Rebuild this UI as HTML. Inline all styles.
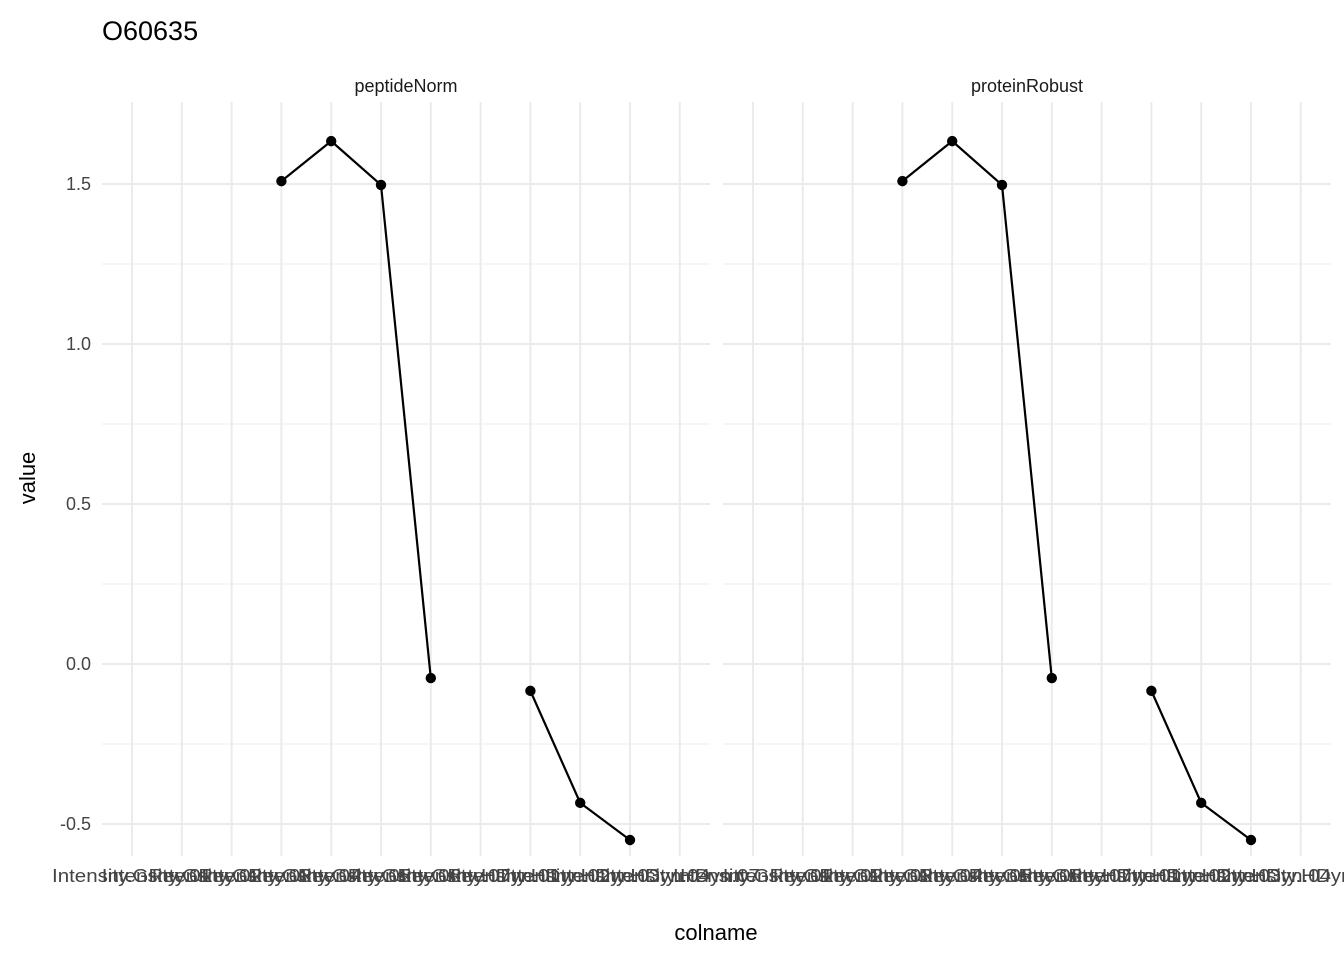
<!DOCTYPE html>
<html><head><meta charset="utf-8"><style>
body{margin:0;background:#fff;}
svg text{font-family:"Liberation Sans",Arial,sans-serif;}
</style></head><body>
<svg id="chart" width="1344" height="960" xmlns="http://www.w3.org/2000/svg">
<text x="102" y="40" font-size="27" fill="#000">O60635</text>
<text x="716" y="940" font-size="22" text-anchor="middle" fill="#000">colname</text>
<text transform="translate(35,478) rotate(-90)" font-size="22" text-anchor="middle" fill="#000">value</text>
<g id="panels"></g>
</svg>
<script>
const categories=["Intensity.GRey.01","Intensity.GRey.02","Intensity.GRey.03","Intensity.GRey.04","Intensity.GRey.05","Intensity.GRey.06","Intensity.GRey.07","Intensity.HDyn.01","Intensity.HDyn.02","Intensity.HDyn.03","Intensity.HDyn.04","Intensity.HDyn.07"];
const facets=["peptideNorm","proteinRobust"];
const peptideNormValues=[null,null,null,1.509,1.634,1.497,-0.044,null,-0.084,-0.434,-0.55,null];
const proteinRobustValues=[null,null,null,1.509,1.634,1.497,-0.044,null,-0.084,-0.434,-0.55,null];
const yTicks=[-0.5,0,0.5,1.0,1.5];
const yTickLabels=["-0.5","0.0","0.5","1.0","1.5"];
const seriesByFacet=[peptideNormValues,proteinRobustValues];

const NS="http://www.w3.org/2000/svg";
const g=document.getElementById("panels");
function mk(tag,attrs,parent){const e=document.createElementNS(NS,tag);for(const k in attrs)e.setAttribute(k,attrs[k]);(parent||g).appendChild(e);return e;}
const panelLeft=[102,723], panelW=608, panelTop=102, panelBottom=856;
const step=49.8, firstOff=30;
function y(v){return 664-v*320;}
function x(p,i){return panelLeft[p]+firstOff+i*step;}

facets.forEach((f,p)=>{
  const pg=mk("g",{});
  
  
  for(let k=0;k<yTicks.length-1;k++){
    const m=(yTicks[k]+yTicks[k+1])/2;
    const l=mk("line",{x1:panelLeft[p],x2:panelLeft[p]+panelW,y1:y(m),y2:y(m),stroke:"#f0f0f0","stroke-width":1.2},pg);
    
    
  }
  yTicks.forEach((t,k)=>{
    const l=mk("line",{x1:panelLeft[p],x2:panelLeft[p]+panelW,y1:y(t),y2:y(t),stroke:"#ebebeb","stroke-width":2},pg);
    
    
    if(p===0){
      const tx=mk("text",{x:91,y:y(t)+6,"font-size":18,"text-anchor":"end",fill:"#444"},pg);
      tx.textContent=yTickLabels[k];
      
      
    }
  });
  categories.forEach((c,i)=>{
    const l=mk("line",{x1:x(p,i),x2:x(p,i),y1:panelTop,y2:panelBottom,stroke:"#ebebeb","stroke-width":2},pg);
    
    
    const tx=mk("text",{x:x(p,i),y:882,"font-size":18,"text-anchor":"middle",fill:"#444",textLength:160,lengthAdjust:"spacingAndGlyphs"},pg);
    tx.textContent=c;
    
    
  });
  const st=mk("text",{x:panelLeft[p]+panelW/2,y:92,"font-size":18,"text-anchor":"middle",fill:"#1a1a1a"},pg);
  st.textContent=f;
  
  
  const vals=seriesByFacet[p];
  for(let i=0;i<vals.length-1;i++){
    if(vals[i]!=null&&vals[i+1]!=null){
      const l=mk("line",{x1:x(p,i),y1:y(vals[i]),x2:x(p,i+1),y2:y(vals[i+1]),stroke:"#000","stroke-width":2.2},pg);
      
      
    }
  }
  vals.forEach((v,i)=>{
    if(v==null)return;
    const c=mk("circle",{cx:x(p,i),cy:y(v),r:5.2,fill:"#000"},pg);
    
    
  });
});
</script>
</body></html>
